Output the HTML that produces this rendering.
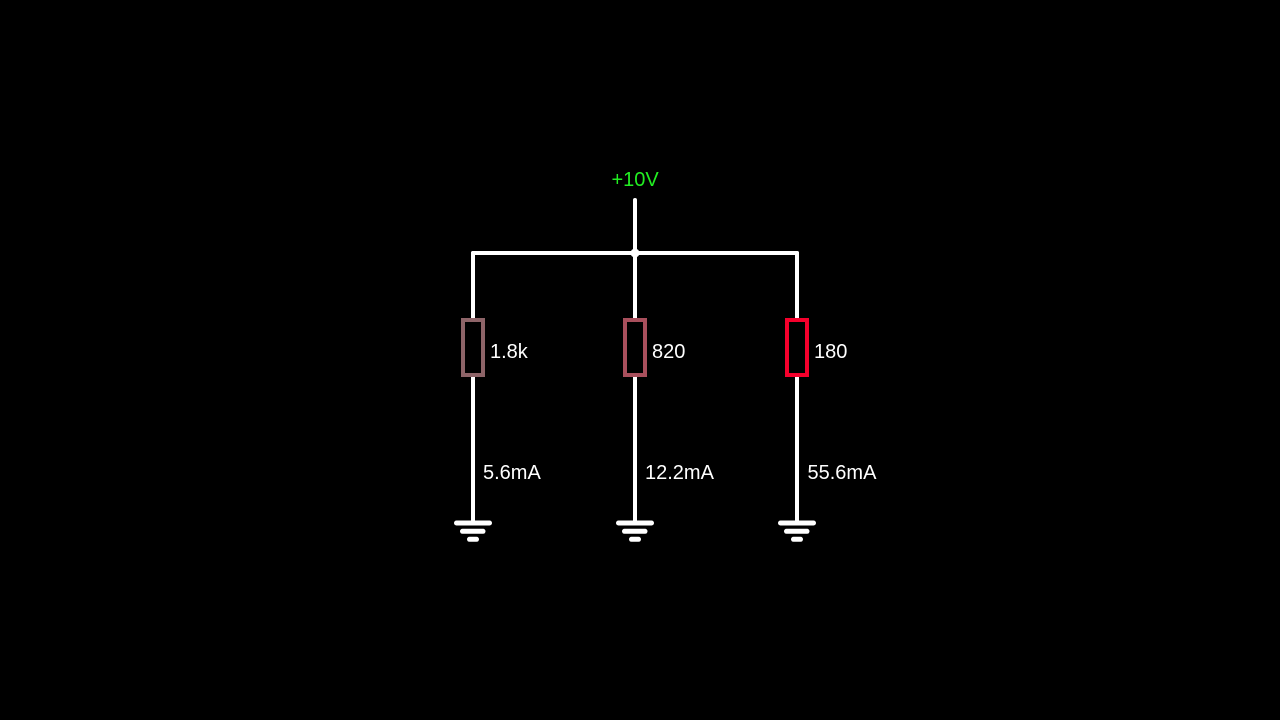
<!DOCTYPE html>
<html><head><meta charset="utf-8"><style>
html,body{margin:0;padding:0;background:#000;width:1280px;height:720px;overflow:hidden}
svg{display:block}
text{font-family:"Liberation Sans",sans-serif;font-size:20px}
</style></head><body>
<svg width="1280" height="720" viewBox="0 0 1280 720">
<rect width="1280" height="720" fill="#000"/>
<g stroke="#fff" stroke-width="4" stroke-linecap="round" fill="none">
<line x1="635" y1="200" x2="635" y2="253"/>
<line x1="473" y1="253" x2="797" y2="253"/>
<line x1="473" y1="253" x2="473" y2="318"/>
<line x1="635" y1="253" x2="635" y2="318"/>
<line x1="797" y1="253" x2="797" y2="318"/>
<line x1="473" y1="377" x2="473" y2="523"/>
<line x1="635" y1="377" x2="635" y2="523"/>
<line x1="797" y1="377" x2="797" y2="523"/>
</g>
<g stroke="#fff" stroke-width="5" stroke-linecap="round" fill="none">
<line x1="456.5" y1="523" x2="489.5" y2="523"/>
<line x1="462.5" y1="531.3" x2="483" y2="531.3"/>
<line x1="469.5" y1="539.3" x2="476.5" y2="539.3"/>
<line x1="618.5" y1="523" x2="651.5" y2="523"/>
<line x1="624.5" y1="531.3" x2="645" y2="531.3"/>
<line x1="631.5" y1="539.3" x2="638.5" y2="539.3"/>
<line x1="780.5" y1="523" x2="813.5" y2="523"/>
<line x1="786.5" y1="531.3" x2="807" y2="531.3"/>
<line x1="793.5" y1="539.3" x2="800.5" y2="539.3"/>
</g>
<circle cx="635" cy="253" r="4.5" fill="#fff"/>
<g stroke-width="4" fill="none">
<rect x="463" y="320" width="20" height="55" stroke="#8e6468"/>
<rect x="625" y="320" width="20" height="55" stroke="#a84f5c"/>
<rect x="787" y="320" width="20" height="55" stroke="#f5002c"/>
</g>
<text x="611.5" y="186" fill="#22ee22">+10V</text>
<g fill="#fff">
<text x="490" y="358">1.8k</text>
<text x="652" y="358">820</text>
<text x="814" y="358">180</text>
<text x="483" y="479">5.6mA</text>
<text x="645" y="479">12.2mA</text>
<text x="807.5" y="479">55.6mA</text>
</g>
</svg>
</body></html>
